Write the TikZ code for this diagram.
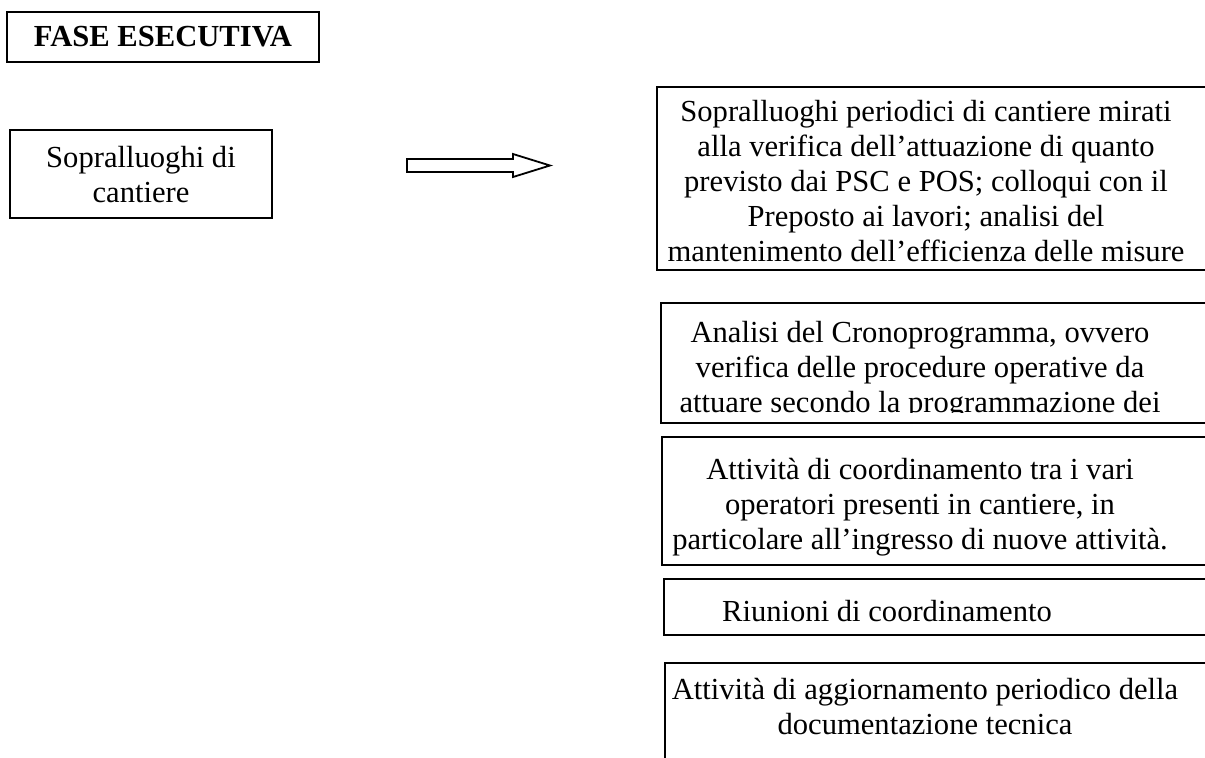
\documentclass[tikz,border=0pt]{standalone}
\usepackage{fontspec}
\setmainfont{Liberation Serif}
\usepackage{tikz}
\usetikzlibrary{calc}

\tikzset{
	testo/.style={align=center,inner sep=0pt,font=\fontsize{15.3}{17.5}\selectfont},
	riquadro/.style={draw,line width=0.9pt}
}

\begin{document}
\begin{tikzpicture}[x=0.5pt,y=-0.5pt]
		\useasboundingbox (0,0) rectangle (1205,757);
		\clip (0,0) rectangle (1205,757);
		
		%titolo
		\draw[riquadro] (7,12) rectangle (319,62);
		\node[testo,font=\fontsize{15.3}{17.5}\selectfont\bfseries] (fase) at (163,37) {FASE ESECUTIVA};
		
		%sopralluoghi
		\draw[riquadro] (10,130) rectangle (272,218);
		\node[testo] (sopr) at (141,175) {Sopralluoghi di\\cantiere};
		
		%freccia
		\draw[line width=0.9pt,line join=miter] (407,159) -- (513,159) -- (513,154) -- (550,165.5) -- (513,177) -- (513,172) -- (407,172) -- cycle;
		
		%riquadri a destra (escono dal bordo)
		\draw[riquadro] (657,87) rectangle (1220,270);
		\node[testo] (periodici) at (926,181) {Sopralluoghi periodici di cantiere mirati\\alla verifica dell'attuazione di quanto\\previsto dai PSC e POS; colloqui con il\\Preposto ai lavori; analisi del\\mantenimento dell'efficienza delle misure};
		
		\draw[riquadro] (661,303) rectangle (1220,423);
		\begin{scope}
			\clip (661,303) rectangle (1220,412);
			\node[testo] (crono) at (920,370) {Analisi del Cronoprogramma, ovvero\\verifica delle procedure operative da\\attuare secondo la programmazione dei};
		\end{scope}
		
		\draw[riquadro] (662,437) rectangle (1220,565);
		\node[testo] (coord) at (920,507) {Attività di coordinamento tra i vari\\operatori presenti in cantiere, in\\particolare all'ingresso di nuove attività.};
		
		\draw[riquadro] (664,579) rectangle (1220,635);
		\node[testo] (riunioni) at (887,611) {Riunioni di coordinamento};
		
		\draw[riquadro] (665,663) rectangle (1220,780);
		\node[testo] (aggiorn) at (925,706) {Attività di aggiornamento periodico della\\documentazione tecnica};
		
\end{tikzpicture}
\end{document}
